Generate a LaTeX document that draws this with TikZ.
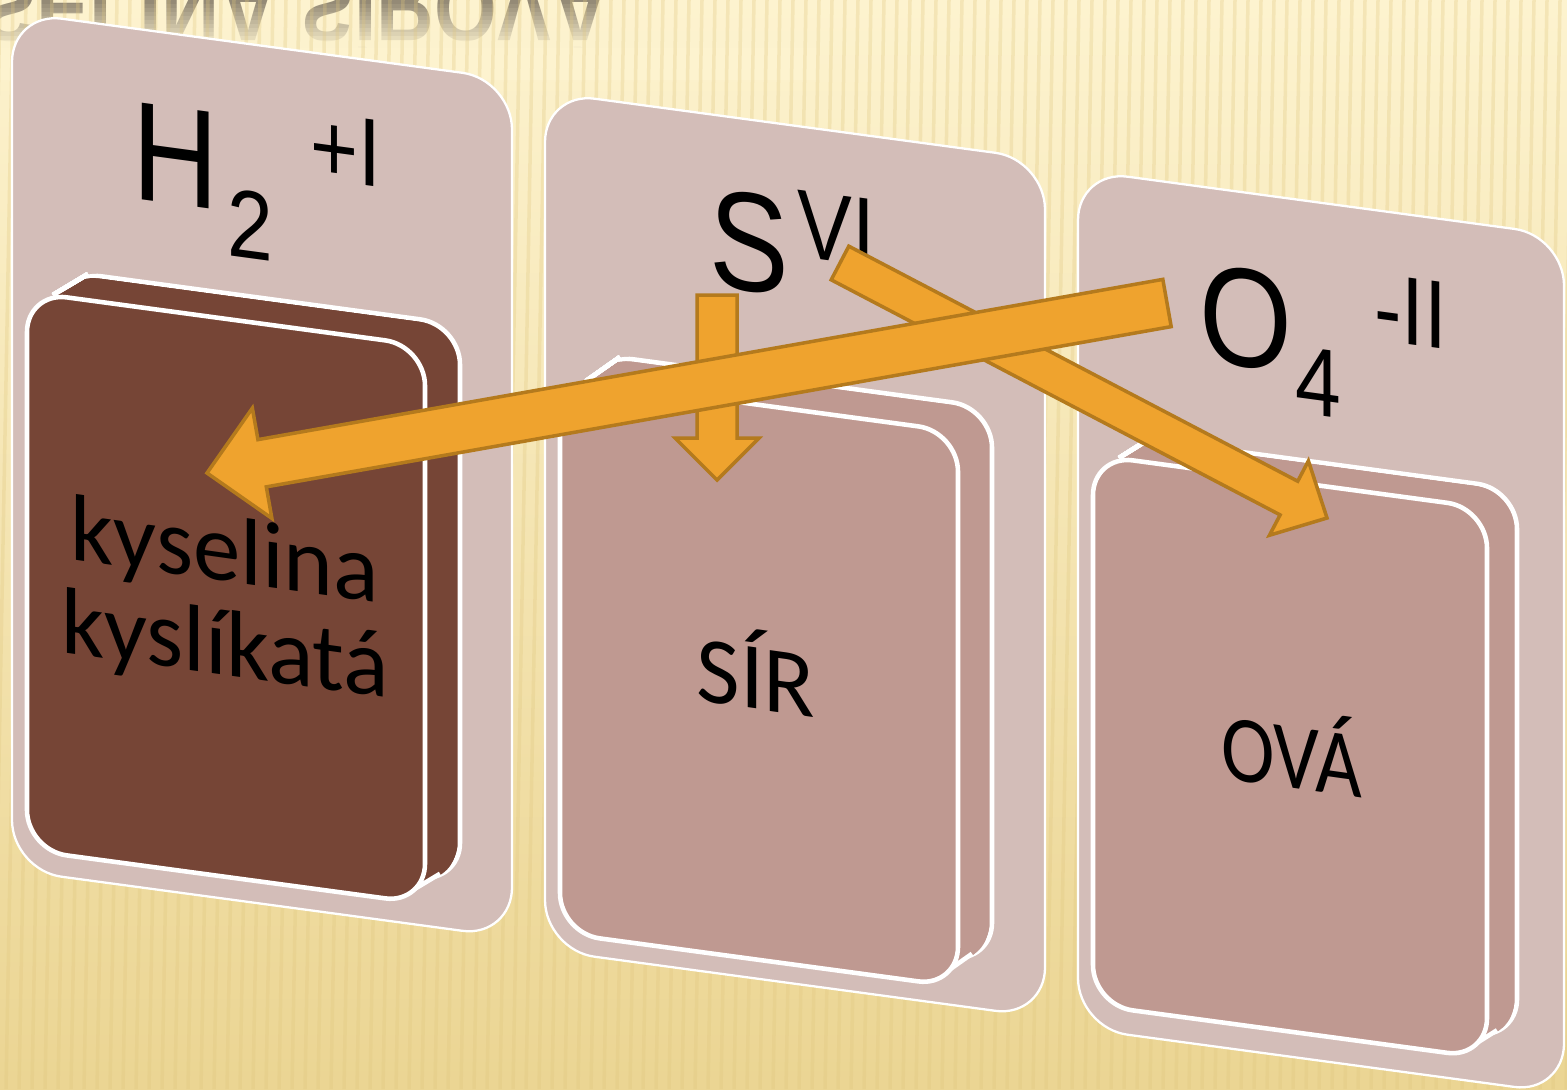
\documentclass[tikz,border=0pt]{standalone}
\usepackage{fontspec}
\setmainfont{Liberation Sans}
\newfontfamily\cardfont{Carlito}
\usepackage{xcolor}
\usetikzlibrary{calc}

\definecolor{bgtop}{HTML}{FDF3CF}
\definecolor{bgbottom}{HTML}{EBD593}
\definecolor{stripecol}{HTML}{E0C77F}
\definecolor{panelpink}{HTML}{D3BDB8}
\definecolor{darkbrown}{HTML}{764536}
\definecolor{rosebrown}{HTML}{BF9991}
\definecolor{arroworange}{HTML}{EFA32E}
\definecolor{arrowedge}{HTML}{B47A1D}
\definecolor{mirrorgrey}{HTML}{948A76}

\tikzstyle{panel} = [fill=panelpink, draw=white, line width=1.3pt, rounded corners=1cm]
\tikzstyle{cardedge} = [draw=white, line width=2.6pt, rounded corners=0.8cm]
\tikzstyle{sweep} = [rounded corners=0.8cm]
\tikzstyle{formula} = [inner sep=0pt, anchor=base west, yslant=-0.135, xscale=0.85]
\tikzstyle{bigsym} = [formula, font=\fontsize{80}{80}\selectfont]
\tikzstyle{smallsym} = [formula, font=\fontsize{55}{55}\selectfont]
\tikzstyle{cardtext} = [inner sep=0pt, anchor=base, yslant=-0.14, font=\cardfont\fontsize{54}{54}\selectfont]
\tikzstyle{mirror} = [inner sep=0pt, anchor=base west, yscale=-1, xscale=0.85, text=mirrorgrey, font=\bfseries\fontsize{54}{54}\selectfont]
\tikzstyle{blockarrow} = [fill=arroworange, draw=arrowedge, line width=2pt, line join=miter]
\tikzstyle{stripe} = [line width=2pt, draw=stripecol, opacity=0.3]

% tilted rounded face: corner, width, height
\newcommand\skewbox[4][]{\path[#1] (#2) -- ++(#3,{0.135*#3}) -- ++(0,#4) -- ++(-#3,{-0.135*#3}) -- cycle;}
% card with depth: corner, width, height, dx, dy, colour
\newcommand\card[6]{%
  \skewbox[cardedge, fill=#6]{$(#1)+(#4,#5)$}{#2}{#3}
  \foreach \s in {0.9,0.8,...,0.1}
    \skewbox[sweep, fill=#6]{$(#1)+({\s*(#4)},{\s*(#5)})$}{#2}{#3}
  \draw[white, line width=2.6pt] ($(#1)+(26,3)$) -- ++(#4,#5);
  \draw[white, line width=2.6pt] ($(#1)+(#2,{0.135*#2+#3})+(-20,-9)$) -- ++(#4,#5);
  \skewbox[cardedge, fill=#6]{#1}{#2}{#3}
}
% block arrow: tail, tip, half shaft, half head, head length
\newcommand\fatarrow[5]{%
  \coordinate (hb) at ($(#2)!#5!(#1)$);
  \draw[blockarrow] ($(#1)!#3!90:(#2)$) -- ($(hb)!#3!-90:(#1)$) -- ($(hb)!#4!-90:(#1)$) -- (#2)
    -- ($(hb)!#4!90:(#1)$) -- ($(hb)!#3!90:(#1)$) -- ($(#1)!#3!-90:(#2)$) -- cycle;
}

\begin{document}
\begin{tikzpicture}[x=0.02cm, y=-0.02cm]
  \clip (0,0) rectangle (1567,1089);
  \shade[top color=bgtop, bottom color=bgbottom] (0,0) rectangle (1567,1089);
  \node (mirrortitle) [mirror] at (-130,-25) {KYSELINA SÍROVÁ};
  % reflection fades out
  \foreach \y in {0,4,...,44}
    \fill[bgtop, opacity={\y/46}] (-10,\y) rectangle (820,\y+4);
  \fill[bgtop] (-10,48) rectangle (820,80);
  \foreach \x in {0,13,...,1650}
    \draw[stripe] (\x,0) -- (\x-20,1089);

  % hydrogen
  \skewbox[panel]{12,12}{500}{858}
  \card{27,292}{398}{558}{35}{-21}{darkbrown}
  \node (hsym) [bigsym] at (132,198) {H};
  \node (hidx) [smallsym] at (227,255) {2};
  \node (hox) [smallsym] at (310,178) {+I};
  \node (acidline1) [cardtext] at (225,581) {kyselina};
  \node (acidline2) [cardtext] at (225,675) {kyslíkatá};

  % sulphur
  \skewbox[panel]{545,92}{500}{858}
  \card{560,378}{398}{555}{34}{-24}{rosebrown}
  \node (ssym) [bigsym] at (709,285) {S};
  \node (sox) [smallsym] at (797,256) {VI};
  \node (sulfur) [cardtext] at (756,709) {SÍR};

  % oxygen
  \skewbox[panel]{1078,170}{486}{858}
  \card{1093,455}{394}{550}{30}{-19}{rosebrown}
  \node (osym) [bigsym] at (1199,360) {O};
  \node (oidx) [smallsym] at (1295,412) {4};
  \node (oox) [smallsym] at (1374,340) {-II};
  \node (ending) [cardtext, xscale=0.85] at (1292,788) {OVÁ};

  \coordinate (stail) at (717,295);
  \coordinate (stip) at (717,480);
  \coordinate (vitail) at (840,263);
  \coordinate (vitip) at (1327,518);
  \coordinate (otail) at (1167,303);
  \coordinate (otip) at (207,473);
  \fatarrow{stail}{stip}{0.4cm}{0.84cm}{0.84cm}
  \fatarrow{vitail}{vitip}{0.38cm}{0.84cm}{0.86cm}
  \fatarrow{otail}{otip}{0.48cm}{1.12cm}{1.12cm}
\end{tikzpicture}
\end{document}
